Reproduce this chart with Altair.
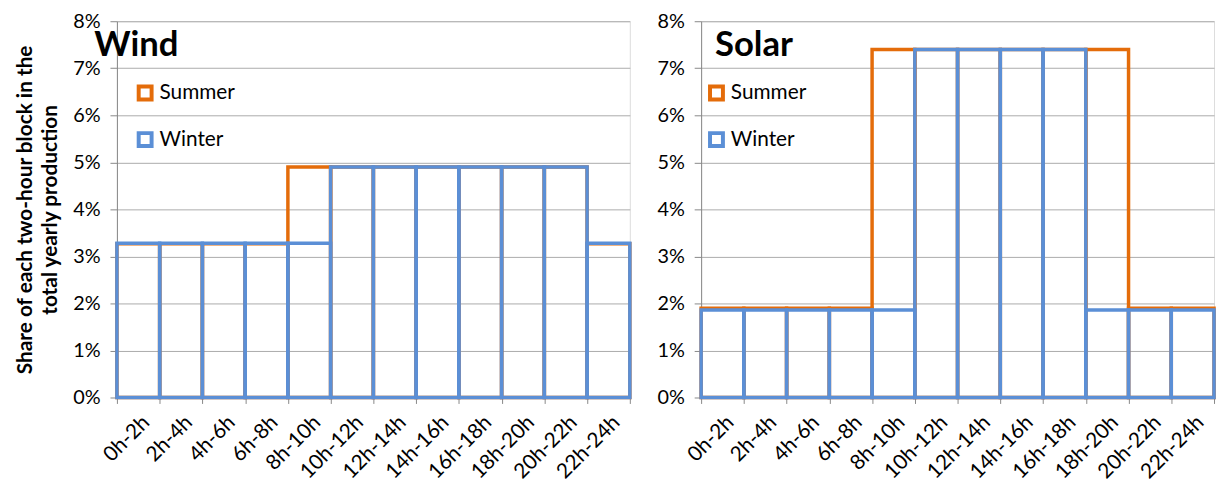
import altair as alt
import pandas as pd

categories = ["0h-2h", "2h-4h", "4h-6h", "6h-8h", "8h-10h", "10h-12h",
              "12h-14h", "14h-16h", "16h-18h", "18h-20h", "20h-22h", "22h-24h"]
seasons = ["Summer", "Winter"]
wind_summer = [0.0327, 0.0327, 0.0327, 0.0327, 0.049, 0.049, 0.049, 0.049, 0.049, 0.049, 0.049, 0.0327]
wind_winter = [0.0328, 0.0328, 0.0328, 0.0328, 0.0328, 0.049, 0.049, 0.049, 0.049, 0.049, 0.049, 0.0328]
solar_summer = [0.019, 0.019, 0.019, 0.019, 0.074, 0.074, 0.074, 0.074, 0.074, 0.074, 0.019, 0.019]
solar_winter = [0.0186, 0.0186, 0.0186, 0.0186, 0.0186, 0.074, 0.074, 0.074, 0.074, 0.0186, 0.0186, 0.0186]
y_ticks = [0, 0.01, 0.02, 0.03, 0.04, 0.05, 0.06, 0.07, 0.08]
y_title = ["Share of each two-hour block in the", "total yearly production"]

ORANGE = "#E46C0A"
BLUE = "#5B8FD6"
FONT = "Lato"


def panel(name, summer, winter, show_title, legend_x, title_x):
    df = pd.DataFrame({
        "block": categories * 2,
        "season": ["Summer"] * len(categories) + ["Winter"] * len(categories),
        "share": list(summer) + list(winter),
    })
    x = alt.X("block:N", sort=categories, title=None,
              scale=alt.Scale(paddingInner=0, paddingOuter=0),
              axis=alt.Axis(labelAngle=-45, labelFontSize=21, labelFont=FONT,
                            labelColor="#000", tickBand="extent", tickSize=6,
                            tickColor="#888", domainColor="#888", labelPadding=8,
                            grid=False))
    y = alt.Y("share:Q", stack=None,
              scale=alt.Scale(domain=[0, 0.08], nice=False),
              title=y_title if show_title else None,
              axis=alt.Axis(values=y_ticks, format=".0%", labelFontSize=20,
                            labelFont=FONT, labelColor="#000", tickSize=7,
                            tickColor="#888", domainColor="#888", labelPadding=10,
                            gridColor="#ABABAB", titleFontSize=21, titleFont=FONT,
                            titleFontWeight="bold", titleColor="#000",
                            titlePadding=12, titleLineHeight=26))
    stroke = alt.Stroke("season:N",
                        scale=alt.Scale(domain=seasons, range=[ORANGE, BLUE]),
                        legend=alt.Legend(title=None, orient="none",
                                          legendX=legend_x, legendY=62,
                                          symbolType="square", symbolSize=170,
                                          symbolStrokeWidth=4, symbolFillColor="white",
                                          labelFontSize=21, labelFont=FONT,
                                          labelColor="#000", rowPadding=16,
                                          labelOffset=4))
    base = alt.Chart(df)
    summer_bars = base.transform_filter(alt.datum.season == "Summer").mark_bar(
        filled=False, strokeWidth=3.5).encode(x=x, y=y, stroke=stroke)
    winter_bars = base.transform_filter(alt.datum.season == "Winter").mark_bar(
        filled=False, strokeWidth=3.5).encode(x=x, y=y, stroke=stroke)
    label = alt.Chart(pd.DataFrame({"t": [name]})).mark_text(
        align="left", baseline="alphabetic", fontSize=35, fontWeight="bold",
        font=FONT, color="#000").encode(text="t:N", x=alt.value(title_x),
                                        y=alt.value(35))
    return alt.layer(summer_bars, winter_bars, label).properties(width=518, height=380)


left = panel("Wind", wind_summer, wind_winter, True, 18, -23)
right = panel("Solar", solar_summer, solar_winter, False, 5, 14)

chart = alt.hconcat(left, right, spacing=23).resolve_scale(
    stroke="independent").resolve_legend(stroke="independent").configure_view(
    stroke=None).configure(padding={"left": 5, "top": 0, "right": 0, "bottom": 0})

chart.save("out.html", embed_options={"renderer": "svg", "actions": False})
